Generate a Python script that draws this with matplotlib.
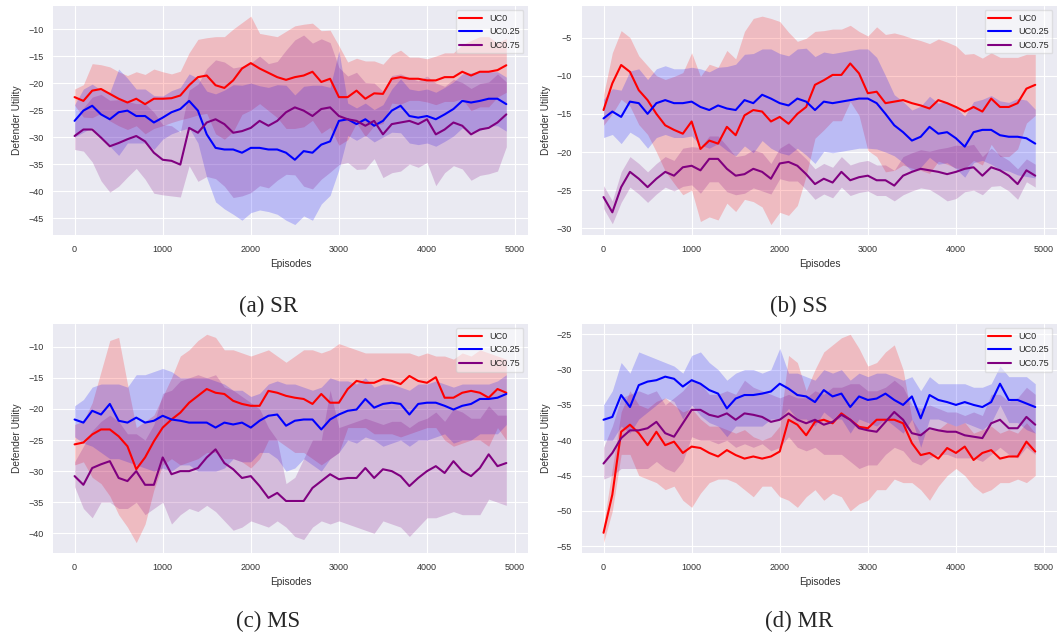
import numpy as np
import matplotlib.pyplot as plt

plt.style.use('seaborn-v0_8-darkgrid')

episodes = np.arange(0, 4901, 100)
labels = ['UC0', 'UC0.25', 'UC0.75']
colors = ['red', 'blue', 'purple']

# ---- SR ----
sr_uc0_mean = [-22.6, -23.3, -21.4, -21.1, -22.0, -22.9, -23.6, -22.9, -23.9, -22.9, -22.9, -22.8, -22.3, -20.4, -18.9, -18.6, -20.4, -20.9, -19.5, -17.3, -16.3, -17.3, -18.1, -18.9, -19.4, -18.9, -18.6, -17.9, -19.8, -19.2, -22.6, -22.6, -21.4, -22.9, -21.9, -22.0, -19.2, -18.9, -19.2, -19.2, -19.5, -19.5, -18.9, -18.9, -17.9, -18.6, -17.9, -17.9, -17.6, -16.7]
sr_uc0_lo = [-24.1, -26.3, -26.4, -25.6, -27.0, -27.9, -28.6, -27.9, -29.4, -28.4, -27.9, -27.3, -26.8, -26.4, -25.9, -25.6, -29.4, -30.4, -29.0, -25.8, -25.0, -23.8, -25.1, -26.4, -28.4, -28.4, -28.1, -26.9, -29.3, -28.2, -31.5, -30.5, -27.4, -29.9, -27.9, -27.5, -23.7, -23.9, -23.2, -23.2, -23.5, -24.0, -23.4, -23.4, -22.9, -25.1, -24.4, -24.4, -22.6, -21.7]
sr_uc0_hi = [-21.1, -20.3, -16.4, -16.6, -17.0, -17.9, -18.6, -17.9, -18.4, -17.4, -17.9, -18.3, -17.8, -14.4, -11.9, -11.6, -11.4, -11.4, -10.0, -8.8, -7.6, -10.8, -11.1, -11.4, -10.4, -9.4, -9.1, -8.9, -10.3, -10.2, -13.1, -16.1, -15.4, -15.9, -15.9, -16.5, -14.7, -13.9, -15.2, -15.2, -15.5, -15.0, -14.4, -14.4, -12.9, -12.1, -11.4, -11.4, -12.6, -11.7]

sr_uc025_mean = [-27.0, -25.1, -24.2, -25.8, -26.7, -25.4, -25.1, -26.1, -26.1, -27.3, -26.4, -25.4, -24.8, -23.3, -25.1, -29.5, -32.0, -32.3, -32.3, -32.9, -32.0, -32.0, -32.3, -32.3, -32.9, -34.2, -32.6, -32.9, -31.4, -30.8, -27.0, -26.7, -27.6, -26.7, -27.9, -27.0, -25.1, -24.2, -26.1, -26.4, -26.1, -26.7, -25.8, -24.8, -23.3, -23.6, -23.3, -22.9, -22.9, -23.9]
sr_uc025_lo = [-30.0, -29.1, -28.2, -30.3, -31.7, -33.4, -31.1, -31.1, -31.1, -32.3, -30.4, -29.4, -28.8, -28.3, -31.1, -37.5, -42.0, -43.3, -44.3, -45.4, -44.0, -43.5, -43.8, -44.3, -45.4, -46.2, -44.6, -45.4, -42.4, -40.8, -36.0, -29.7, -30.6, -29.7, -30.9, -30.0, -29.1, -29.2, -31.1, -31.4, -31.1, -31.7, -30.8, -29.8, -28.3, -29.1, -28.8, -27.9, -27.9, -28.9]
sr_uc025_hi = [-24.0, -21.1, -20.2, -21.3, -21.7, -17.4, -19.1, -21.1, -21.1, -22.3, -22.4, -21.4, -20.8, -18.3, -19.1, -21.5, -22.0, -21.3, -20.3, -20.4, -20.0, -20.5, -20.8, -20.3, -20.4, -22.2, -20.6, -20.4, -20.4, -20.8, -14.0, -23.7, -24.6, -23.7, -24.9, -24.0, -21.1, -19.2, -21.1, -21.4, -21.1, -21.7, -20.8, -19.8, -18.3, -18.1, -17.8, -17.9, -17.9, -18.9]

sr_uc075_mean = [-29.8, -28.6, -28.6, -30.1, -31.7, -31.1, -30.4, -29.8, -30.8, -32.9, -34.2, -34.4, -35.1, -28.3, -29.2, -27.3, -26.7, -27.6, -29.2, -28.9, -28.3, -27.0, -27.9, -27.0, -25.4, -24.5, -25.1, -26.1, -24.8, -24.5, -26.1, -26.7, -27.0, -27.9, -27.0, -29.5, -27.6, -27.3, -27.0, -27.6, -26.7, -29.5, -28.6, -27.3, -27.9, -29.5, -28.6, -28.3, -27.3, -25.8]
sr_uc075_lo = [-32.3, -32.6, -34.6, -38.1, -40.2, -39.1, -37.4, -35.8, -37.8, -40.4, -40.7, -40.9, -41.1, -35.3, -38.2, -37.3, -37.7, -39.1, -41.2, -40.9, -40.3, -39.0, -39.4, -38.0, -36.9, -37.0, -39.1, -39.6, -37.8, -36.5, -35.1, -34.7, -36.0, -35.9, -34.0, -37.5, -36.6, -36.3, -35.0, -35.6, -34.7, -39.0, -36.6, -35.3, -35.9, -38.0, -37.1, -36.8, -36.3, -31.8]
sr_uc075_hi = [-27.3, -24.6, -22.6, -22.1, -23.2, -23.1, -23.4, -23.8, -23.8, -25.4, -27.7, -27.9, -29.1, -21.3, -20.2, -17.3, -15.7, -16.1, -17.2, -16.9, -16.3, -15.0, -16.4, -16.0, -13.9, -12.0, -11.1, -12.6, -11.8, -12.5, -17.1, -18.7, -18.0, -19.9, -20.0, -21.5, -18.6, -18.3, -19.0, -19.6, -18.7, -20.0, -20.6, -19.3, -19.9, -21.0, -20.1, -19.8, -18.3, -19.8]

# ---- SS ----
ss_uc0_mean = [-14.5, -11.0, -8.6, -9.5, -11.9, -13.2, -15.0, -16.5, -17.1, -17.6, -16.0, -19.6, -18.5, -18.9, -16.7, -17.8, -15.2, -14.5, -14.7, -16.0, -15.4, -16.3, -15.0, -14.1, -11.2, -10.6, -9.9, -9.9, -8.4, -9.7, -12.3, -12.1, -13.6, -13.4, -13.2, -13.6, -13.9, -14.3, -13.2, -13.6, -14.1, -14.7, -14.1, -14.7, -13.0, -14.1, -14.1, -13.6, -11.7, -11.2]
ss_uc0_lo = [-16.5, -15.0, -13.1, -14.0, -16.4, -17.7, -20.0, -22.5, -24.1, -25.6, -25.0, -29.1, -28.5, -28.9, -26.7, -27.8, -26.2, -26.5, -27.2, -29.5, -27.9, -28.3, -27.0, -23.1, -18.2, -17.1, -15.9, -15.9, -13.4, -15.2, -19.8, -20.6, -22.6, -22.4, -21.7, -22.1, -22.4, -22.8, -21.2, -21.6, -22.1, -22.2, -21.1, -21.7, -19.0, -20.6, -20.6, -19.6, -16.2, -15.2]
ss_uc0_hi = [-12.5, -7.0, -4.1, -5.0, -7.4, -8.7, -10.0, -10.5, -10.1, -9.6, -7.0, -10.1, -8.5, -8.9, -6.7, -7.8, -4.2, -2.5, -2.2, -2.5, -2.9, -4.3, -5.5, -5.1, -4.2, -4.1, -3.9, -3.9, -3.4, -4.2, -4.8, -3.6, -4.6, -4.4, -4.7, -5.1, -5.4, -5.8, -5.2, -5.6, -6.1, -7.2, -7.1, -7.7, -7.0, -7.6, -7.6, -7.6, -7.2, -7.2]

ss_uc025_mean = [-15.6, -14.7, -15.4, -13.4, -13.6, -15.0, -13.6, -13.2, -13.6, -13.6, -13.4, -14.1, -14.5, -13.9, -14.3, -14.5, -13.2, -13.6, -12.5, -13.0, -13.6, -13.9, -13.0, -13.4, -14.5, -13.4, -13.6, -13.4, -13.2, -13.0, -13.0, -13.6, -15.0, -16.5, -17.4, -18.5, -18.0, -16.7, -17.6, -17.4, -18.2, -19.3, -17.4, -17.1, -17.1, -17.8, -18.0, -18.0, -18.2, -18.9]
ss_uc025_lo = [-18.1, -17.7, -18.9, -17.4, -18.1, -19.5, -18.1, -17.7, -18.1, -18.1, -17.9, -19.1, -19.5, -18.9, -19.8, -20.5, -19.2, -20.1, -18.5, -19.5, -20.1, -20.4, -19.5, -20.4, -21.5, -19.9, -20.1, -19.9, -19.7, -19.5, -19.5, -19.6, -20.0, -20.5, -21.4, -22.5, -22.0, -20.7, -21.6, -21.4, -22.2, -23.3, -21.4, -21.1, -21.6, -22.3, -22.5, -23.0, -23.2, -23.4]
ss_uc025_hi = [-13.1, -11.7, -11.9, -9.4, -9.1, -10.5, -9.1, -8.7, -9.1, -9.1, -8.9, -9.1, -9.5, -8.9, -8.8, -8.5, -7.2, -7.1, -6.5, -6.5, -7.1, -7.4, -6.5, -6.4, -7.5, -6.9, -7.1, -6.9, -6.7, -6.5, -6.5, -7.6, -10.0, -12.5, -13.4, -14.5, -14.0, -12.7, -13.6, -13.4, -14.2, -15.3, -13.4, -13.1, -12.6, -13.3, -13.5, -13.0, -13.2, -14.4]

ss_uc075_mean = [-25.9, -27.9, -24.6, -22.6, -23.5, -24.6, -23.5, -22.6, -23.1, -22.0, -21.8, -22.4, -20.9, -20.9, -22.2, -23.1, -22.9, -22.2, -22.6, -23.5, -21.5, -21.3, -21.8, -22.9, -24.2, -23.5, -24.0, -22.6, -23.7, -23.3, -23.1, -23.7, -23.7, -24.4, -23.1, -22.6, -22.2, -22.4, -22.6, -22.9, -22.6, -22.2, -22.0, -23.1, -22.0, -22.4, -23.1, -24.2, -22.4, -23.1]
ss_uc075_lo = [-27.4, -29.4, -26.6, -24.6, -25.5, -26.6, -25.5, -24.6, -25.1, -24.5, -24.3, -25.4, -23.9, -23.9, -25.2, -25.6, -25.4, -24.7, -25.1, -25.5, -23.5, -23.8, -23.8, -24.9, -26.2, -25.5, -26.0, -24.6, -25.7, -25.3, -25.1, -25.7, -25.7, -26.4, -25.6, -25.1, -24.7, -24.9, -25.6, -26.4, -26.1, -25.2, -25.0, -25.6, -24.5, -24.4, -25.1, -26.2, -23.9, -24.6]
ss_uc075_hi = [-24.4, -26.4, -22.6, -20.6, -21.5, -22.6, -21.5, -20.6, -21.1, -19.5, -19.3, -19.4, -17.9, -17.9, -19.2, -20.6, -20.4, -19.7, -20.1, -21.5, -19.5, -18.8, -19.8, -20.9, -22.2, -21.5, -22.0, -20.6, -21.7, -21.3, -21.1, -21.7, -21.7, -22.4, -20.6, -20.1, -19.7, -19.9, -19.6, -19.4, -19.1, -19.2, -19.0, -20.6, -19.5, -20.4, -21.1, -22.2, -20.9, -21.6]

# ---- MS ----
ms_uc0_mean = [-25.7, -25.4, -24.1, -23.3, -23.3, -24.4, -26.0, -29.7, -27.8, -25.2, -23.0, -21.7, -20.6, -19.0, -17.9, -16.8, -17.4, -17.6, -18.7, -19.2, -19.5, -19.5, -17.1, -17.4, -17.9, -18.2, -18.4, -19.2, -17.6, -19.0, -19.0, -16.8, -15.5, -15.8, -15.8, -15.2, -15.5, -16.0, -14.7, -15.5, -15.8, -14.9, -18.2, -18.2, -17.4, -17.1, -17.4, -18.2, -16.8, -17.4]
ms_uc0_lo = [-29.0, -28.5, -31.0, -32.0, -34.0, -37.0, -39.0, -41.5, -38.5, -33.0, -29.0, -28.0, -29.0, -28.5, -28.0, -27.0, -27.0, -28.0, -28.0, -28.5, -29.5, -28.0, -25.0, -25.0, -26.0, -27.0, -27.0, -28.0, -29.0, -28.0, -27.0, -23.0, -23.0, -23.0, -24.0, -24.0, -24.0, -24.5, -24.0, -23.5, -23.0, -23.0, -25.0, -26.0, -25.5, -25.0, -25.0, -26.0, -23.0, -25.0]
ms_uc0_hi = [-22.5, -22.0, -19.0, -14.0, -9.0, -8.5, -16.0, -23.0, -22.0, -21.0, -18.0, -15.0, -11.5, -10.5, -9.0, -8.0, -8.5, -10.5, -10.5, -11.0, -11.5, -11.0, -10.5, -11.5, -12.5, -11.5, -10.5, -10.5, -11.0, -10.5, -9.5, -10.0, -10.5, -11.0, -11.0, -11.0, -11.0, -11.0, -11.0, -11.5, -11.0, -11.5, -11.5, -12.0, -11.0, -11.5, -10.5, -11.0, -11.5, -12.0]

ms_uc025_mean = [-21.7, -22.2, -20.3, -20.9, -19.2, -21.9, -22.2, -21.4, -22.2, -21.9, -21.1, -21.7, -21.9, -22.2, -22.2, -22.2, -23.0, -22.2, -22.5, -22.2, -23.0, -21.9, -21.1, -20.9, -22.7, -21.9, -21.7, -21.7, -23.3, -21.7, -20.9, -20.3, -20.1, -18.4, -19.8, -19.2, -19.0, -19.2, -20.9, -19.2, -19.0, -19.0, -19.5, -20.1, -19.5, -19.2, -18.4, -18.4, -18.2, -17.6]
ms_uc025_lo = [-24.5, -25.5, -26.0, -27.0, -28.0, -28.0, -28.5, -29.0, -29.5, -30.0, -29.5, -30.0, -29.0, -29.0, -30.0, -30.0, -30.0, -29.5, -28.0, -28.5, -28.5, -27.0, -27.0, -28.0, -30.0, -29.5, -28.0, -29.0, -30.0, -28.0, -27.0, -25.0, -25.5, -24.5, -25.0, -26.0, -25.5, -25.0, -26.0, -25.0, -25.0, -24.5, -24.0, -25.5, -25.0, -25.0, -24.0, -24.0, -24.0, -22.5]
ms_uc025_hi = [-19.5, -18.5, -16.5, -16.0, -16.0, -16.0, -16.5, -14.5, -14.5, -14.0, -13.5, -14.0, -15.0, -15.0, -15.0, -15.0, -15.5, -16.0, -17.0, -17.0, -18.0, -17.5, -16.0, -15.5, -16.0, -16.0, -16.5, -17.0, -16.5, -15.0, -15.5, -15.5, -16.0, -15.0, -16.5, -16.0, -16.0, -16.5, -17.0, -16.0, -16.0, -15.5, -16.0, -16.5, -16.0, -16.0, -16.0, -16.0, -15.5, -14.5]

ms_uc075_mean = [-30.8, -32.2, -29.5, -28.9, -28.4, -31.1, -31.6, -30.0, -32.2, -32.2, -27.8, -30.5, -30.0, -30.0, -29.5, -27.8, -26.5, -28.7, -29.7, -31.1, -30.8, -32.4, -34.3, -33.5, -34.8, -34.8, -34.8, -32.7, -31.6, -30.5, -31.3, -31.1, -31.1, -29.5, -31.1, -29.7, -30.0, -30.8, -32.4, -31.1, -30.0, -29.2, -30.3, -28.4, -30.0, -30.8, -29.5, -27.3, -29.2, -28.7]
ms_uc075_lo = [-32.5, -36.0, -37.5, -35.0, -35.0, -36.0, -36.0, -35.0, -37.0, -36.0, -35.0, -38.5, -37.0, -36.0, -36.5, -35.5, -36.5, -38.0, -39.5, -39.0, -38.0, -38.5, -39.0, -38.0, -39.0, -40.5, -41.0, -39.0, -38.0, -38.5, -38.0, -38.5, -39.0, -39.5, -40.0, -38.0, -38.5, -39.0, -40.5, -39.0, -37.5, -37.5, -37.0, -36.5, -37.0, -37.0, -37.0, -34.5, -35.0, -35.5]
ms_uc075_hi = [-28.5, -26.0, -23.5, -22.0, -21.0, -22.0, -24.0, -24.0, -25.0, -22.5, -17.5, -17.0, -15.5, -15.0, -14.5, -15.0, -14.5, -16.5, -17.0, -18.0, -19.0, -20.0, -23.0, -25.0, -32.0, -31.0, -28.0, -25.0, -25.0, -17.0, -23.0, -22.5, -22.0, -21.5, -22.0, -22.5, -22.0, -22.0, -23.0, -22.0, -21.5, -20.5, -22.0, -20.0, -20.5, -21.5, -21.5, -19.5, -21.0, -21.0]

# ---- MR ----
mr_uc0_mean = [-53.1, -47.7, -38.8, -37.8, -39.0, -40.7, -38.8, -40.7, -40.2, -41.8, -40.9, -41.1, -41.8, -42.3, -41.4, -42.1, -42.6, -42.3, -42.6, -42.3, -41.6, -37.1, -37.8, -39.3, -37.4, -37.1, -37.6, -36.2, -37.1, -38.1, -38.3, -37.1, -37.1, -37.1, -37.6, -40.4, -42.1, -41.8, -42.6, -41.1, -41.8, -40.9, -42.8, -41.8, -41.4, -42.6, -42.3, -42.3, -40.2, -41.6]
mr_uc0_lo = [-54.5, -50.0, -42.0, -42.0, -45.0, -45.5, -46.0, -47.0, -46.5, -48.5, -49.5, -47.5, -46.0, -45.5, -45.5, -46.0, -47.0, -48.0, -46.5, -46.5, -48.0, -48.5, -49.5, -48.0, -47.0, -48.5, -47.5, -48.0, -50.0, -49.0, -48.5, -47.0, -47.0, -45.5, -46.0, -46.0, -47.0, -48.5, -46.5, -45.0, -44.0, -45.0, -46.5, -47.5, -47.0, -46.0, -46.0, -45.5, -46.0, -45.0]
mr_uc0_hi = [-52.0, -44.0, -36.0, -33.0, -35.0, -35.5, -34.5, -34.0, -35.0, -36.0, -35.5, -37.0, -38.0, -38.0, -38.5, -39.0, -38.5, -39.5, -40.0, -39.5, -38.0, -28.0, -29.0, -33.0, -30.0, -27.5, -26.5, -25.5, -25.0, -27.0, -29.5, -29.0, -27.5, -26.5, -30.0, -37.0, -39.0, -38.5, -38.5, -37.5, -38.0, -37.5, -39.0, -38.5, -38.0, -39.0, -38.5, -39.0, -37.5, -39.0]

mr_uc025_mean = [-37.1, -36.7, -33.6, -35.3, -32.2, -31.7, -31.5, -31.0, -31.3, -32.4, -31.5, -32.0, -32.9, -33.4, -35.5, -34.1, -33.6, -33.6, -33.4, -33.1, -32.0, -32.7, -33.6, -33.8, -34.6, -32.9, -33.8, -33.4, -35.3, -33.8, -34.3, -34.1, -33.4, -34.3, -35.0, -33.8, -36.9, -33.6, -34.3, -34.6, -35.0, -34.6, -35.0, -35.3, -34.6, -32.0, -34.3, -34.3, -34.8, -35.3]
mr_uc025_lo = [-40.0, -40.0, -38.0, -39.0, -37.0, -36.0, -35.0, -34.0, -34.5, -37.0, -35.0, -36.5, -37.5, -38.0, -39.5, -38.0, -38.0, -38.0, -38.0, -37.0, -37.0, -35.5, -37.0, -37.0, -38.0, -36.0, -37.0, -37.0, -39.0, -37.0, -37.5, -38.0, -37.0, -38.0, -39.0, -37.0, -41.0, -37.0, -37.0, -37.5, -38.0, -37.5, -38.0, -38.5, -37.5, -35.0, -37.5, -37.5, -38.5, -39.0]
mr_uc025_hi = [-35.0, -33.0, -29.0, -30.5, -27.5, -28.0, -28.5, -29.0, -29.5, -30.5, -28.0, -27.5, -29.0, -30.0, -31.5, -30.5, -30.0, -30.0, -30.5, -30.0, -27.0, -30.5, -30.5, -31.0, -31.5, -30.0, -30.5, -30.0, -31.5, -30.5, -31.0, -30.5, -30.5, -31.0, -31.5, -31.0, -33.0, -31.0, -32.0, -32.0, -32.0, -32.0, -32.5, -32.5, -32.0, -29.5, -31.0, -31.0, -31.0, -32.0]

mr_uc075_mean = [-43.3, -41.8, -39.7, -38.6, -38.6, -38.3, -37.4, -39.0, -39.5, -37.6, -35.7, -35.7, -36.4, -36.7, -36.2, -37.1, -36.2, -36.4, -36.7, -37.4, -37.1, -36.2, -37.1, -37.6, -37.1, -37.8, -37.4, -36.4, -37.1, -38.3, -38.6, -38.8, -37.4, -36.0, -37.1, -39.0, -39.3, -38.3, -38.6, -38.8, -38.8, -39.3, -39.5, -39.7, -37.6, -37.1, -38.3, -38.3, -36.7, -37.8]
mr_uc075_lo = [-45.5, -45.0, -44.0, -44.0, -44.0, -44.0, -43.0, -44.0, -44.5, -43.0, -39.5, -40.0, -40.0, -40.5, -40.0, -41.0, -40.5, -41.0, -40.5, -41.5, -41.0, -39.5, -41.0, -41.5, -41.0, -42.0, -42.0, -42.0, -43.0, -44.0, -43.5, -43.5, -42.0, -41.0, -41.5, -43.0, -43.5, -42.5, -42.0, -42.0, -42.5, -42.5, -42.5, -43.0, -42.0, -41.0, -42.0, -42.5, -41.0, -42.0]
mr_uc075_hi = [-41.0, -38.0, -34.0, -33.5, -33.0, -33.5, -33.0, -35.0, -34.0, -33.0, -31.5, -32.0, -33.5, -33.5, -33.0, -33.5, -31.5, -32.5, -33.0, -33.5, -34.0, -33.5, -34.0, -34.0, -33.0, -33.5, -32.5, -32.5, -32.0, -32.0, -33.0, -33.0, -32.5, -31.5, -32.5, -35.0, -35.5, -35.0, -35.5, -36.0, -36.0, -36.5, -36.0, -36.5, -33.5, -33.5, -34.5, -34.0, -32.5, -33.5]

panels = [
    ('(a) SR', [(sr_uc0_mean, sr_uc0_lo, sr_uc0_hi),
                (sr_uc025_mean, sr_uc025_lo, sr_uc025_hi),
                (sr_uc075_mean, sr_uc075_lo, sr_uc075_hi)]),
    ('(b) SS', [(ss_uc0_mean, ss_uc0_lo, ss_uc0_hi),
                (ss_uc025_mean, ss_uc025_lo, ss_uc025_hi),
                (ss_uc075_mean, ss_uc075_lo, ss_uc075_hi)]),
    ('(c) MS', [(ms_uc0_mean, ms_uc0_lo, ms_uc0_hi),
                (ms_uc025_mean, ms_uc025_lo, ms_uc025_hi),
                (ms_uc075_mean, ms_uc075_lo, ms_uc075_hi)]),
    ('(d) MR', [(mr_uc0_mean, mr_uc0_lo, mr_uc0_hi),
                (mr_uc025_mean, mr_uc025_lo, mr_uc025_hi),
                (mr_uc075_mean, mr_uc075_lo, mr_uc075_hi)]),
]

# axes boxes (left, bottom, width, height) and caption spots
boxes = [[0.050, 0.630, 0.448, 0.361], [0.549, 0.630, 0.448, 0.361],
         [0.050, 0.129, 0.448, 0.361], [0.549, 0.129, 0.448, 0.361]]
captions_xy = [(0.253, 0.517), (0.754, 0.517), (0.253, 0.021), (0.754, 0.021)]

fig = plt.figure(figsize=(10.6, 6.35), dpi=100)

for (caption, series), box, (cx, cy) in zip(panels, boxes, captions_xy):
    ax = fig.add_axes(box)
    for (mean, lo, hi), lab, col in zip(series, labels, colors):
        ax.fill_between(episodes, lo, hi, color=col, alpha=0.2, linewidth=0)
        ax.plot(episodes, mean, color=col, lw=1.5, label=lab)
    ax.set_xticks([0, 1000, 2000, 3000, 4000, 5000])
    ax.tick_params(labelsize=6.5, pad=7, colors='#333333')
    ax.set_xlabel('Episodes', fontsize=7.3, color='#333333')
    ax.set_ylabel('Defender Utility', fontsize=7.3, color='#333333')
    ax.legend(loc='upper right', fontsize=6.5, frameon=True, facecolor='white',
              framealpha=0.5, edgecolor='0.8', handlelength=2.5)
    fig.text(cx, cy, caption, ha='center', va='center',
             family='Liberation Serif', fontsize=16.5)

fig.savefig('out.png', dpi=100)
